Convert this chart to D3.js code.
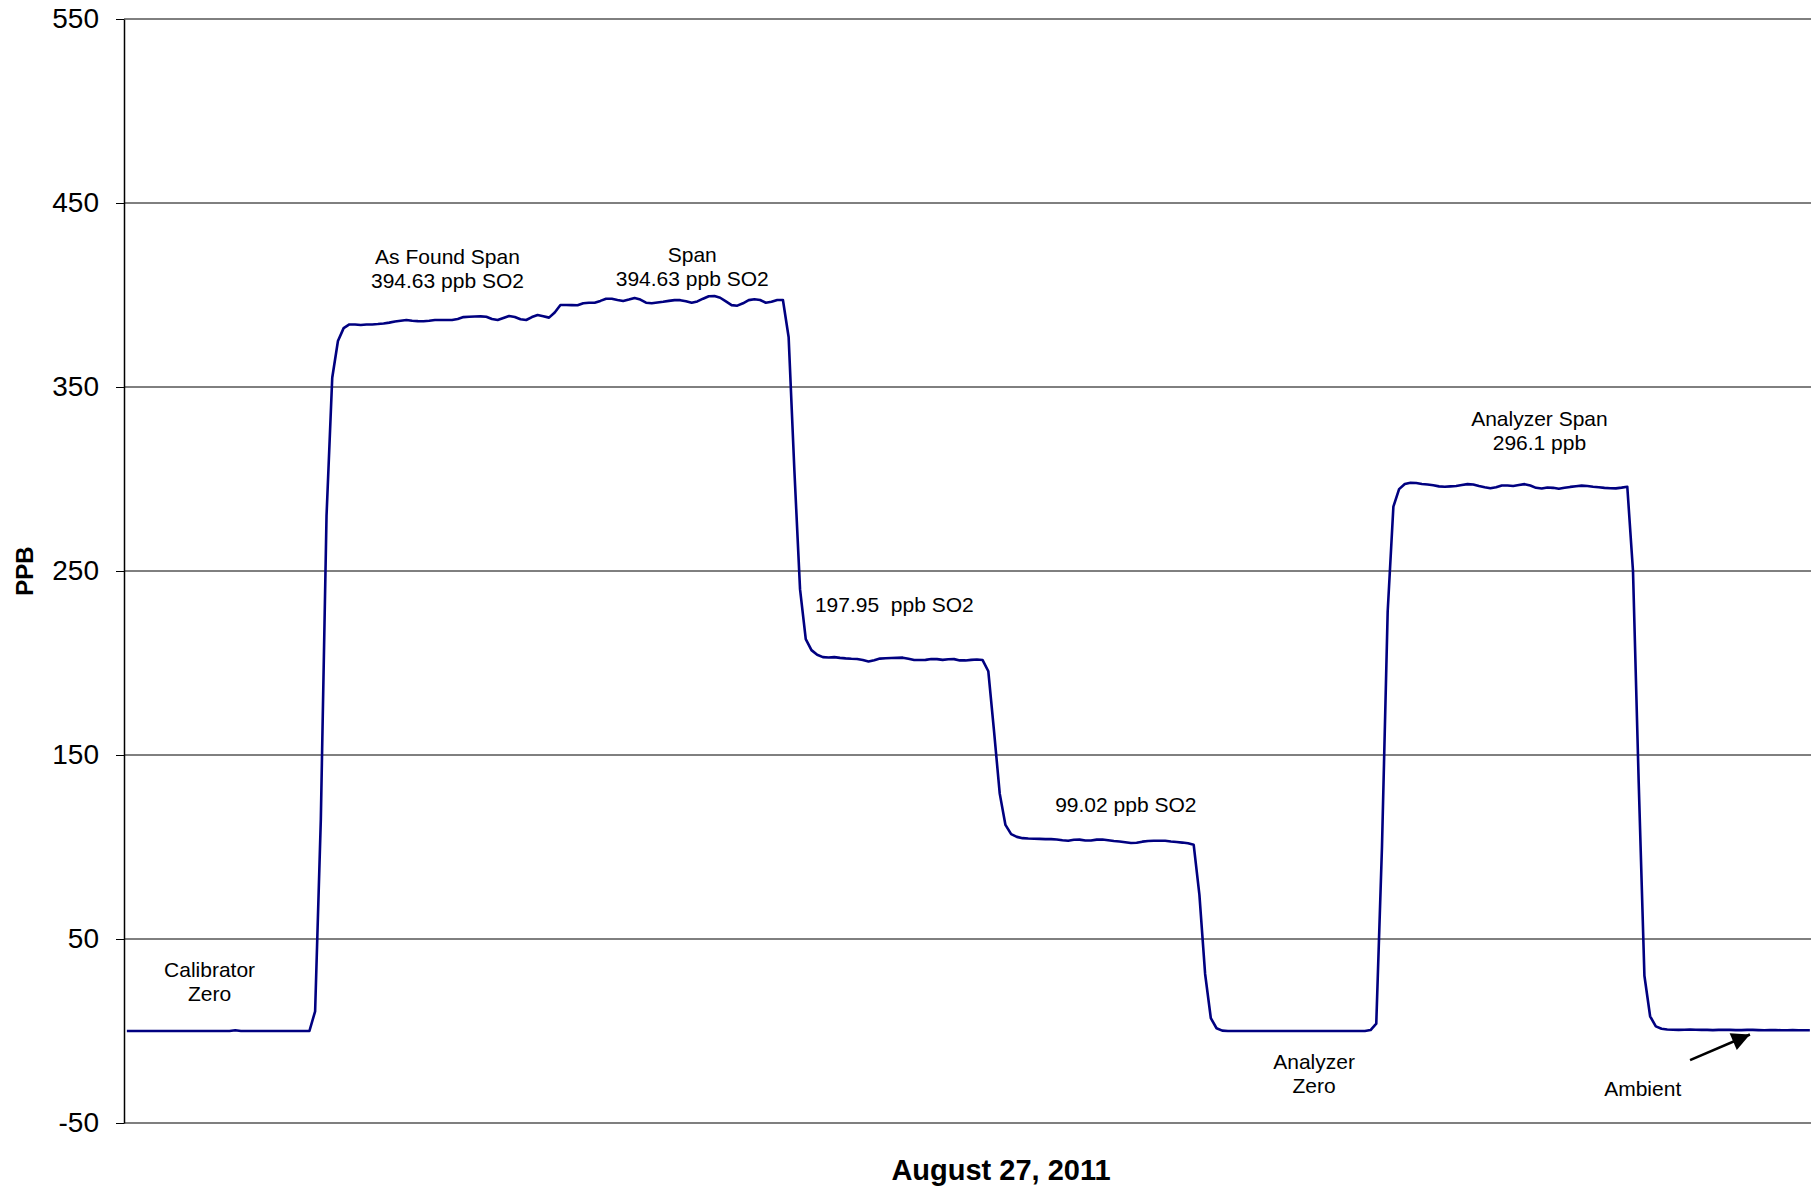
<!DOCTYPE html>
<html>
<head>
<meta charset="utf-8">
<script src="https://cdn.jsdelivr.net/npm/d3@7"></script>
<style>
  body { margin: 0; background: #fff; }
  svg { display: block; font-family: Arial, "Liberation Sans", sans-serif; }
</style>
</head>
<body>
<div class="chart-wrapper"></div>
<script>
// y axis ticks
var yTicks = [-50, 50, 150, 250, 350, 450, 550];

// SO2 readings (ppb), one per sample, split by calibration phase
var calibratorZero = [0, 0, 0, 0, 0, 0, 0, 0, 0, 0, 0, 0, 0, 0, 0, 0, 0, 0, 0, 0.4,
  0, 0, 0, 0, 0, 0, 0, 0, 0, 0, 0, 0, 0];
var asFoundSpan = [10.7, 115, 280, 355, 375, 382, 384, 384, 383.7, 384, 384, 384.2, 384.5, 385,
  385.6, 386, 386.4, 386, 385.8, 385.7, 386, 386.4, 386.4, 386.4, 386.4, 387, 388, 388.2, 388.3,
  388.4, 388.2, 387, 386.4, 387.5, 388.6, 388, 386.8, 386.4, 388, 389.1, 388.5, 387.7, 390.5];
var span = [394.6, 394.6, 394.5, 394.4, 395.5, 395.8, 395.8, 396.8, 398, 398, 397.3, 396.7, 397.5,
  398.4, 397.5, 395.8, 395.5, 395.9, 396.3, 396.8, 397.2, 397.2, 396.6, 395.8, 396.5, 398, 399.3,
  399.4, 398.5, 396.5, 394.5, 394.2, 395.5, 397.2, 397.7, 397.3, 395.8, 396.3, 397.3, 397.3, 377];
var span200 = [305, 240, 213, 207, 204.5, 203.2, 203, 203.2, 202.8, 202.5, 202.3, 202.2, 201.6,
  200.8, 201.5, 202.4, 202.6, 202.7, 202.8, 202.9, 202.3, 201.6, 201.6, 201.7, 202.2, 202.1, 201.7,
  202, 202.1, 201.4, 201.4, 201.7, 201.9, 201.6, 195.5];
var span100 = [163, 129, 112, 107, 105.5, 104.8, 104.6, 104.5, 104.4, 104.3, 104.3, 104.1, 103.7,
  103.4, 103.9, 104, 103.5, 103.5, 104, 104.1, 103.7, 103.3, 103, 102.6, 102.2, 102.3, 102.9, 103.3,
  103.4, 103.4, 103.4, 103, 102.7, 102.4, 102, 101.2];
var analyzerZero = [74, 31, 7, 1.5, 0.2, 0, 0, 0, 0, 0, 0, 0, 0, 0, 0, 0, 0, 0, 0, 0, 0, 0, 0, 0,
  0, 0, 0, 0, 0, 0, 0.5, 4];
var analyzerSpan = [100, 228, 285, 294.5, 297.3, 298, 297.8, 297.3, 297, 296.6, 296, 295.8, 296,
  296.2, 296.7, 297.2, 297, 296.2, 295.5, 295, 295.5, 296.5, 296.5, 296.2, 296.7, 297.2, 296.5,
  295.2, 294.8, 295.4, 295.2, 294.7, 295.2, 295.7, 296.1, 296.4, 296.2, 295.8, 295.5, 295.2, 295,
  294.9, 295.3, 295.8, 250];
var ambient = [135, 30, 8, 2.5, 1.2, 0.8, 0.7, 0.6, 0.7, 0.8, 0.7, 0.6, 0.6, 0.5, 0.6, 0.7, 0.6,
  0.5, 0.5, 0.6, 0.6, 0.5, 0.4, 0.5, 0.5, 0.4, 0.4, 0.5, 0.4, 0.4, 0.4];

var readings = [].concat(calibratorZero, asFoundSpan, span, span200, span100,
  analyzerZero, analyzerSpan, ambient);

// text notes: sample index, ppb of first baseline, anchor
var noteLines = [
  ["Calibrator", "Zero"],
  ["As Found Span", "394.63 ppb SO2"],
  ["Span", "394.63 ppb SO2"],
  ["197.95  ppb SO2"],
  ["99.02 ppb SO2"],
  ["Analyzer", "Zero"],
  ["Analyzer Span", "296.1 ppb"],
  ["Ambient"]
];
var noteIndex = [14.5, 56.2, 99.1, 120.6, 175.1, 208.1, 247.6, 265.7];
var noteValue = [29.2, 416.7, 417.8, 227.9, 119.2, -20.8, 329, -35.3];
var noteAnchor = ["middle", "middle", "middle", "start", "middle", "middle", "middle", "middle"];

// arrow pointing at the ambient reading: [index, ppb] tail then tip
var arrowPts = [[274, -15.8], [284.5, -1.9]];

var width = 1811, height = 1189;
var plotLeft = 124, plotRight = 1811, plotTop = 19, plotBottom = 1123;

var svg = d3.select('.chart-wrapper').append('svg')
  .attr("width", width)
  .attr("height", height);

// category axis: each sample sits in the middle of its slot
var x = d3.scaleLinear()
  .domain([-0.5, 295.2])
  .range([plotLeft, plotRight]);

var y = d3.scaleLinear()
  .domain([-50, 550])
  .range([plotBottom, plotTop]);

//gridlines
svg.append("g")
  .selectAll("line")
  .data(yTicks)
  .enter().append("line")
  .attr("x1", plotLeft)
  .attr("x2", plotRight)
  .attr("y1", function(d) { return y(d); })
  .attr("y2", function(d) { return y(d); })
  .attr("stroke", function(d) { return d == -50 ? "#7f7f7f" : "#000"; })
  .attr("stroke-width", function(d) { return d == -50 ? 2 : 1; });

//y axis with ticks outside, plain hyphen for negatives
var yAxis = svg.append("g")
  .attr("transform", "translate(" + plotLeft + ",0)")
  .call(d3.axisLeft(y).tickValues(yTicks).tickSize(8).tickPadding(17).tickSizeOuter(0)
    .tickFormat(function(d) { return String(d); }));
yAxis.select(".domain").attr("stroke", "#000").attr("stroke-width", 1.5);
yAxis.selectAll(".tick line").attr("stroke", "#000");
yAxis.selectAll("text")
  .attr("font-family", "Arial, 'Liberation Sans', sans-serif")
  .attr("font-size", 28)
  .attr("fill", "#000");

//axis titles
svg.append("text")
  .attr("transform", "translate(33," + (plotTop + plotBottom) / 2 + ") rotate(-90)")
  .attr("text-anchor", "middle")
  .attr("font-size", 24)
  .attr("font-weight", "bold")
  .text("PPB");

svg.append("text")
  .attr("x", 1001)
  .attr("y", 1180)
  .attr("text-anchor", "middle")
  .attr("font-size", 29)
  .attr("font-weight", "bold")
  .text("August 27, 2011");

//clip the trace to the plot area
svg.append("clipPath")
  .attr("id", "plot-clip")
  .append("rect")
  .attr("x", plotLeft)
  .attr("y", 0)
  .attr("width", plotRight - plotLeft)
  .attr("height", height);

var line = d3.line()
  .x(function(d, i) { return x(i); })
  .y(function(d) { return y(d); });

svg.append("path")
  .datum(readings)
  .attr("clip-path", "url(#plot-clip)")
  .attr("fill", "none")
  .attr("stroke", "#000080")
  .attr("stroke-width", 2.6)
  .attr("stroke-linejoin", "round")
  .attr("d", line);

//notes
var notes = svg.append("g")
  .selectAll("text")
  .data(noteLines)
  .enter().append("text")
  .attr("font-size", 21)
  .attr("fill", "#000")
  .attr("text-anchor", function(d, i) { return noteAnchor[i]; })
  .attr("transform", function(d, i) {
    return "translate(" + x(noteIndex[i]) + "," + y(noteValue[i]) + ")";
  });

notes.selectAll("tspan")
  .data(function(d) { return d; })
  .enter().append("tspan")
  .attr("x", 0)
  .attr("y", function(d, i) { return i * 24; })
  .style("white-space", "pre")
  .text(function(d) { return d; });

//arrow to the ambient reading
svg.append("defs").append("marker")
  .attr("id", "arrow-head")
  .attr("viewBox", "0 0 10 10")
  .attr("refX", 10)
  .attr("refY", 5)
  .attr("markerWidth", 8)
  .attr("markerHeight", 7)
  .attr("markerUnits", "strokeWidth")
  .attr("orient", "auto")
  .append("path")
  .attr("d", "M0,0L10,5L0,10Z")
  .attr("fill", "#000");

svg.append("line")
  .attr("x1", x(arrowPts[0][0]))
  .attr("y1", y(arrowPts[0][1]))
  .attr("x2", x(arrowPts[1][0]))
  .attr("y2", y(arrowPts[1][1]))
  .attr("stroke", "#000")
  .attr("stroke-width", 2.6)
  .attr("marker-end", "url(#arrow-head)");
</script>
</body>
</html>
